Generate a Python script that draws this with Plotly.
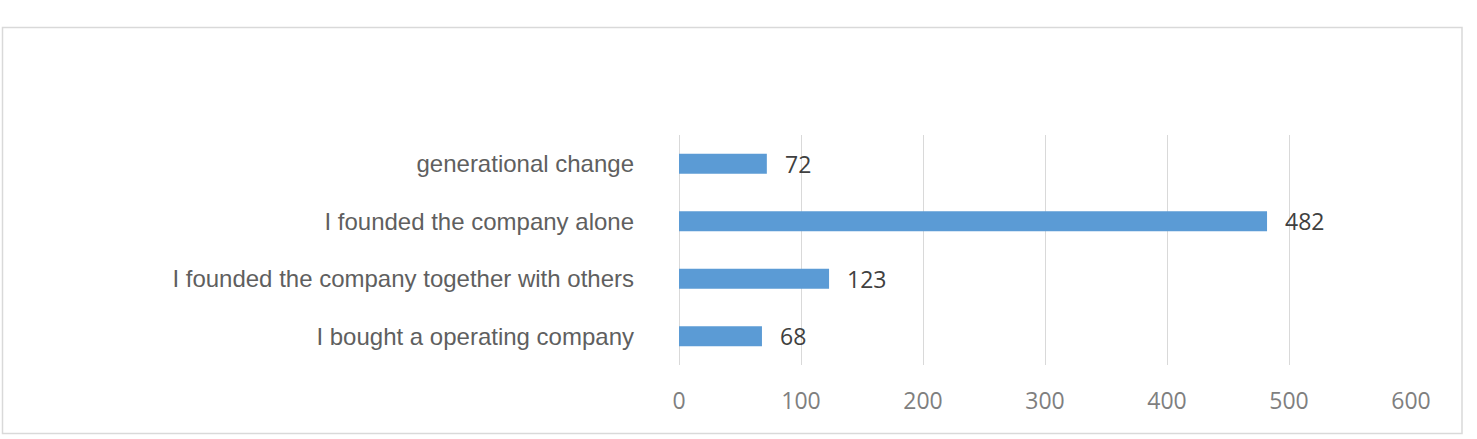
import plotly.graph_objects as go

categories = [
    "generational change",
    "I founded the company alone",
    "I founded the company together with others",
    "I bought a operating company",
]
values = [72, 482, 123, 68]
x_ticks = [0, 100, 200, 300, 400, 500, 600]

W, H = 1477, 439
L, R, T, B = 679, 66, 135, 74
PW, PH = W - L - R, H - T - B


def px_x(p):
    return (p - L) / PW


def px_y(p):
    return (H - B - p) / PH


fig = go.Figure(
    go.Bar(
        x=values,
        y=categories,
        orientation="h",
        marker=dict(color="#5b9bd5", line=dict(width=0)),
        width=0.35,
        cliponaxis=False,
        hoverinfo="x+y",
    )
)

for c, v in zip(categories, values):
    fig.add_annotation(
        x=v, y=c, text=str(v), showarrow=False,
        xanchor="left", yanchor="middle", xshift=16,
        font=dict(family="Open Sans", size=23, color="#404040"),
    )

fig.add_shape(
    type="rect", xref="paper", yref="paper",
    x0=px_x(2.5), x1=px_x(1462), y0=px_y(433.5), y1=px_y(27.5),
    line=dict(color="#d9d9d9", width=1.5), fillcolor="rgba(0,0,0,0)",
    layer="below",
)

fig.update_layout(
    width=W, height=H,
    margin=dict(l=L, r=R, t=T, b=B, pad=0),
    paper_bgcolor="white", plot_bgcolor="white",
    showlegend=False,
    xaxis=dict(
        range=[0, 600], tickvals=x_ticks, ticktext=[str(t) for t in x_ticks],
        showgrid=True, gridcolor="#d9d9d9", gridwidth=1,
        zeroline=True, zerolinecolor="#d9d9d9", zerolinewidth=1,
        showline=False, ticks="",
        tickfont=dict(family="Open Sans", size=23, color="#7f7f7f"),
        ticklabelstandoff=20,
        fixedrange=True,
    ),
    yaxis=dict(
        autorange="reversed", showgrid=False, zeroline=False, showline=False,
        ticks="",
        tickfont=dict(family="Liberation Sans", size=24, color="#5f5f5f"),
        ticklabelstandoff=44,
        fixedrange=True,
    ),
)

fig.write_html("out.html")
